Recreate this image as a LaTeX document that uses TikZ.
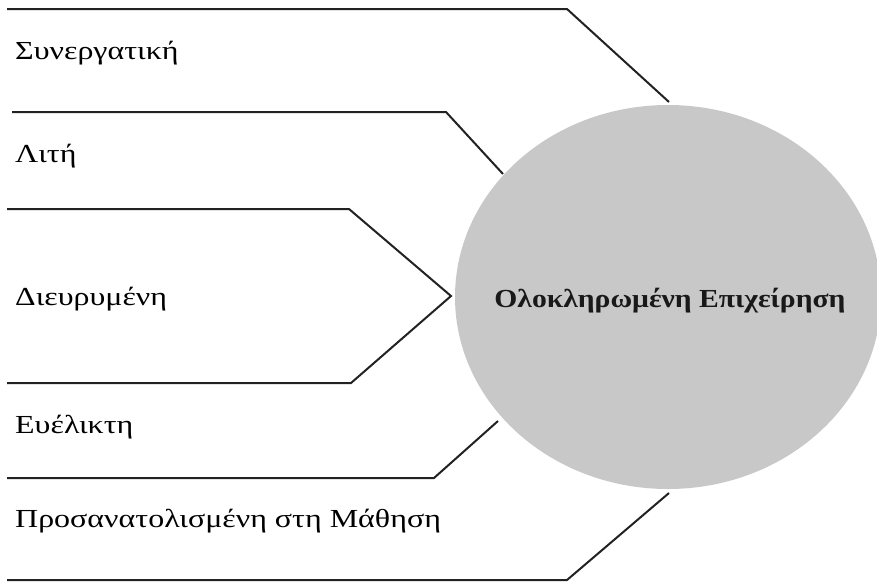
\documentclass[tikz,border=0pt]{standalone}
\usepackage{fontspec}
\setmainfont{Liberation Serif}
\newfontfamily\tagfont[FakeStretch=1.23]{Liberation Serif}
\newfontfamily\hubfont[FakeStretch=1.14]{Liberation Serif}
\usetikzlibrary{shapes.geometric}
\definecolor{hubgrey}{RGB}{200,200,200}
\definecolor{inkline}{RGB}{34,34,34}
\tikzset{
  link/.style={draw=inkline, line width=2pt, line join=miter},
  tag/.style={anchor=base west, inner sep=0pt, font=\tagfont\fontsize{26}{30}\selectfont, text=black},
  hubnode/.style={ellipse, fill=hubgrey, inner sep=0pt, minimum width=426pt, minimum height=384pt}
}
\begin{document}
\begin{tikzpicture}[x=1pt,y=-1pt]
  \useasboundingbox (0,0) rectangle (877,582);
  \begin{scope}
    \clip (0,0) rectangle (877,582);
    \node[hubnode] (hub) at (668,297) {};
  \end{scope}
  \node[font=\hubfont\fontsize{26}{30}\selectfont\bfseries, text=black!90, inner sep=0pt, anchor=base]
    (hubtext) at (670,307) {Ολοκληρωμένη Επιχείρηση};

  % category labels
  \node[tag] (t1) at (15,59) {Συνεργατική};
  \node[tag] (t2) at (15,162) {Λιτή};
  \node[tag] (t3) at (15,305) {Διευρυμένη};
  \node[tag] (t4) at (15,433) {Ευέλικτη};
  \node[tag] (t5) at (15,527) {Προσανατολισμένη στη Μάθηση};

  % polyline corners
  \coordinate (a0) at (7,9);   \coordinate (a1) at (567,9);   \coordinate (a2) at (669,102);
  \coordinate (b0) at (12,112); \coordinate (b1) at (446,112); \coordinate (b2) at (503,174);
  \coordinate (c0) at (7,209);  \coordinate (c1) at (349,209); \coordinate (c2) at (451,296);
  \coordinate (c3) at (351,383); \coordinate (c4) at (7,383);
  \coordinate (d0) at (7,478);  \coordinate (d1) at (434,478); \coordinate (d2) at (498,421);
  \coordinate (e0) at (7,580);  \coordinate (e1) at (567,580); \coordinate (e2) at (669,493);

  \draw[link] (a0) -- (a1) -- (a2);
  \draw[link] (b0) -- (b1) -- (b2);
  \draw[link] (c0) -- (c1) -- (c2) -- (c3) -- (c4);
  \draw[link] (d0) -- (d1) -- (d2);
  \draw[link] (e0) -- (e1) -- (e2);
\end{tikzpicture}
\end{document}
